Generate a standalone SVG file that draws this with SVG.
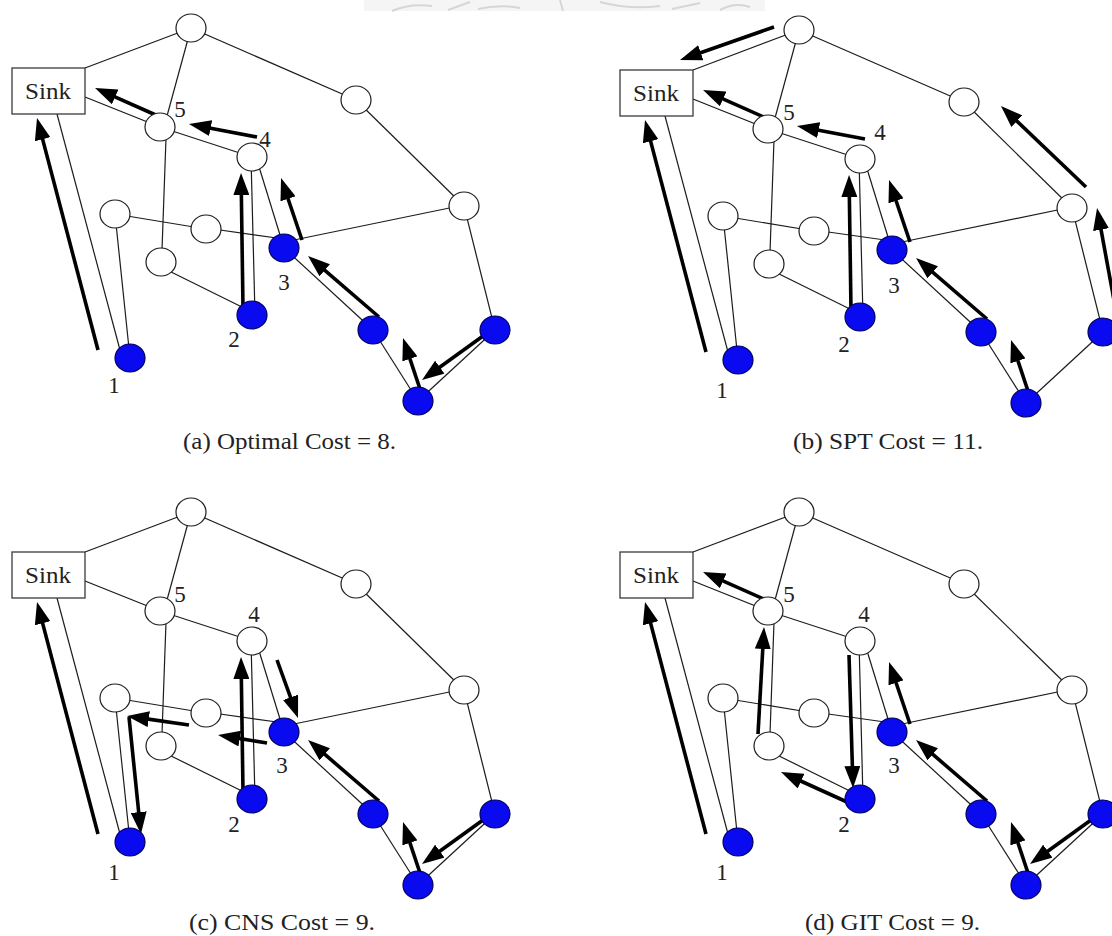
<svg xmlns="http://www.w3.org/2000/svg" width="1112" height="936" viewBox="0 0 1112 936">
  <style>
    .edge { stroke: #1c1c1c; stroke-width: 1.2; fill: none; }
    .arrow { stroke: #000; stroke-width: 3.6; fill: none; marker-end: url(#head); }
    .wn { fill: #fff; stroke: #1c1c1c; stroke-width: 1.2; }
    .bn { fill: #0a0af0; stroke: #00005a; stroke-width: 1.2; }
    .sink { fill: #fff; stroke: #3a3a3a; stroke-width: 1.3; }
    .lbl { font-family: "Liberation Serif", "Times New Roman", serif; font-size: 23px; fill: #222; }
    .num { font-family: "Liberation Serif", "Times New Roman", serif; font-size: 23px; fill: #222; text-anchor: middle; }
    .cap { font-family: "Liberation Serif", "Times New Roman", serif; font-size: 23px; fill: #222; }
    .seal { stroke: #d6d6d6; stroke-width: 2; fill: none; }
  </style>
  <defs>
    <marker id="head" markerUnits="userSpaceOnUse" markerWidth="22" markerHeight="16" refX="4" refY="8" orient="auto">
      <path d="M0,0 L22,8 L0,16 Z" fill="#000"/>
    </marker>
  </defs>

  <rect width="1112" height="936" fill="#fff"/>

  <!-- faint seal strip along the top edge -->
  <g id="seal">
    <rect x="364" y="0" width="401" height="11" fill="#f5f5f5"/>
    <path class="seal" d="M392,11 Q410,3 432,6"/>
    <path class="seal" d="M448,10 L470,2 M478,9 Q500,4 520,8"/>
    <path class="seal" d="M560,0 L563,11"/>
    <path class="seal" d="M600,2 Q630,10 660,6 M672,9 L700,3"/>
    <path class="seal" d="M720,10 Q735,2 750,7"/>
  </g>

  <!-- (a) -->
  <g id="panel-a">
    <g id="a-connectors">
      <path class="edge" d="M85,68 L191,28"/>
      <path class="edge" d="M85,97 L160,127"/>
      <path class="edge" d="M57,114 L120,350"/>
      <path class="edge" d="M191,28 L164,127"/>
      <path class="edge" d="M191,28 L356,100"/>
      <path class="edge" d="M356,100 L464,206"/>
      <path class="edge" d="M464,205 L294,240"/>
      <path class="edge" d="M464,206 L495,330"/>
      <path class="edge" d="M160,127 L252,157"/>
      <path class="edge" d="M166,138 L162,250"/>
      <path class="edge" d="M251,157 L255,315"/>
      <path class="edge" d="M256,157 L284,248"/>
      <path class="edge" d="M115,214 L206,229"/>
      <path class="edge" d="M115,214 L130,358"/>
      <path class="edge" d="M206,228 L284,239"/>
      <path class="edge" d="M161,267 L252,312"/>
      <path class="edge" d="M284,248 L373,330"/>
      <path class="edge" d="M373,330 L418,401"/>
      <path class="edge" d="M418,401 L495,330"/>
      <path class="arrow" d="M98,350 L41.6,135.4"/>
      <path class="arrow" d="M158,116 L111.5,95.3"/>
      <path class="arrow" d="M257,137 L206.7,127.4"/>
      <path class="arrow" d="M243,308 L241.3,191"/>
      <path class="arrow" d="M302,240 L286.8,195"/>
      <path class="arrow" d="M379,317 L321.7,267.7"/>
      <path class="arrow" d="M420,389 L408.7,355.1"/>
      <path class="arrow" d="M483,336 L436.6,369.5"/>
    </g>
    <g id="a-sink"><rect class="sink" x="12" y="68" width="73" height="46"/><text class="lbl" x="25" y="99" textLength="46" lengthAdjust="spacingAndGlyphs">Sink</text></g>
    <g id="a-top"><ellipse class="wn" cx="191" cy="28" rx="15" ry="14"/></g>
    <g id="a-n5"><ellipse class="wn" cx="160" cy="127" rx="15" ry="14"/><text class="num" x="180" y="117">5</text></g>
    <g id="a-rt"><ellipse class="wn" cx="356" cy="100" rx="15" ry="14"/></g>
    <g id="a-n4"><ellipse class="wn" cx="252" cy="157" rx="15" ry="14"/><text class="num" x="265" y="147">4</text></g>
    <g id="a-r"><ellipse class="wn" cx="464" cy="206" rx="15" ry="14"/></g>
    <g id="a-na"><ellipse class="wn" cx="115" cy="214" rx="15" ry="14"/></g>
    <g id="a-nb"><ellipse class="wn" cx="206" cy="229" rx="15" ry="14"/></g>
    <g id="a-nc"><ellipse class="wn" cx="161" cy="262" rx="15" ry="14"/></g>
    <g id="a-n3"><ellipse class="bn" cx="284" cy="248" rx="15" ry="14"/><text class="num" x="284" y="290">3</text></g>
    <g id="a-n2"><ellipse class="bn" cx="252" cy="315" rx="15" ry="14"/><text class="num" x="234" y="347">2</text></g>
    <g id="a-n1"><ellipse class="bn" cx="130" cy="358" rx="15" ry="14"/><text class="num" x="114" y="393">1</text></g>
    <g id="a-nd"><ellipse class="bn" cx="373" cy="330" rx="15" ry="14"/></g>
    <g id="a-ne"><ellipse class="bn" cx="495" cy="330" rx="15" ry="14"/></g>
    <g id="a-nf"><ellipse class="bn" cx="418" cy="401" rx="15" ry="14"/></g>
    <text class="cap" x="183" y="449" textLength="213" lengthAdjust="spacingAndGlyphs">(a) Optimal Cost = 8.</text>
  </g>

  <!-- (b) -->
  <g id="panel-b" transform="translate(608,2)">
    <g id="b-connectors">
      <path class="edge" d="M85,68 L191,28"/>
      <path class="edge" d="M85,97 L160,127"/>
      <path class="edge" d="M57,114 L120,350"/>
      <path class="edge" d="M191,28 L164,127"/>
      <path class="edge" d="M191,28 L356,100"/>
      <path class="edge" d="M356,100 L464,206"/>
      <path class="edge" d="M464,205 L294,240"/>
      <path class="edge" d="M464,206 L495,330"/>
      <path class="edge" d="M160,127 L252,157"/>
      <path class="edge" d="M166,138 L162,250"/>
      <path class="edge" d="M251,157 L255,315"/>
      <path class="edge" d="M256,157 L284,248"/>
      <path class="edge" d="M115,214 L206,229"/>
      <path class="edge" d="M115,214 L130,358"/>
      <path class="edge" d="M206,228 L284,239"/>
      <path class="edge" d="M161,267 L252,312"/>
      <path class="edge" d="M284,248 L373,330"/>
      <path class="edge" d="M373,330 L418,401"/>
      <path class="edge" d="M418,401 L495,330"/>
      <path class="arrow" d="M98,350 L41.6,135.4"/>
      <path class="arrow" d="M166,25 L89,52"/>
      <path class="arrow" d="M158,116 L111.5,95.3"/>
      <path class="arrow" d="M257,137 L206.7,127.4"/>
      <path class="arrow" d="M243,308 L241.3,191"/>
      <path class="arrow" d="M302,240 L286.8,195"/>
      <path class="arrow" d="M379,317 L321.7,267.7"/>
      <path class="arrow" d="M420,389 L408.7,355.1"/>
      <path class="arrow" d="M510,320 L492.3,223.7"/>
      <path class="arrow" d="M478,185 L406,116.4"/>
    </g>
    <g id="b-sink"><rect class="sink" x="12" y="68" width="73" height="46"/><text class="lbl" x="25" y="99" textLength="46" lengthAdjust="spacingAndGlyphs">Sink</text></g>
    <g id="b-top"><ellipse class="wn" cx="191" cy="28" rx="15" ry="14"/></g>
    <g id="b-n5"><ellipse class="wn" cx="160" cy="127" rx="15" ry="14"/><text class="num" x="181" y="118">5</text></g>
    <g id="b-rt"><ellipse class="wn" cx="356" cy="100" rx="15" ry="14"/></g>
    <g id="b-n4"><ellipse class="wn" cx="252" cy="157" rx="15" ry="14"/><text class="num" x="272" y="138">4</text></g>
    <g id="b-r"><ellipse class="wn" cx="464" cy="206" rx="15" ry="14"/></g>
    <g id="b-na"><ellipse class="wn" cx="115" cy="214" rx="15" ry="14"/></g>
    <g id="b-nb"><ellipse class="wn" cx="206" cy="229" rx="15" ry="14"/></g>
    <g id="b-nc"><ellipse class="wn" cx="161" cy="262" rx="15" ry="14"/></g>
    <g id="b-n3"><ellipse class="bn" cx="284" cy="248" rx="15" ry="14"/><text class="num" x="286" y="291">3</text></g>
    <g id="b-n2"><ellipse class="bn" cx="252" cy="315" rx="15" ry="14"/><text class="num" x="236" y="350">2</text></g>
    <g id="b-n1"><ellipse class="bn" cx="130" cy="358" rx="15" ry="14"/><text class="num" x="114" y="396">1</text></g>
    <g id="b-nd"><ellipse class="bn" cx="373" cy="330" rx="15" ry="14"/></g>
    <g id="b-ne"><ellipse class="bn" cx="495" cy="330" rx="15" ry="14"/></g>
    <g id="b-nf"><ellipse class="bn" cx="418" cy="401" rx="15" ry="14"/></g>
    <text class="cap" x="185" y="447" textLength="190" lengthAdjust="spacingAndGlyphs">(b) SPT Cost = 11.</text>
  </g>

  <!-- (c) -->
  <g id="panel-c" transform="translate(0,484)">
    <g id="c-connectors">
      <path class="edge" d="M85,68 L191,28"/>
      <path class="edge" d="M85,97 L160,127"/>
      <path class="edge" d="M57,114 L120,350"/>
      <path class="edge" d="M191,28 L164,127"/>
      <path class="edge" d="M191,28 L356,100"/>
      <path class="edge" d="M356,100 L464,206"/>
      <path class="edge" d="M464,205 L294,240"/>
      <path class="edge" d="M464,206 L495,330"/>
      <path class="edge" d="M160,127 L252,157"/>
      <path class="edge" d="M166,138 L162,250"/>
      <path class="edge" d="M251,157 L255,315"/>
      <path class="edge" d="M256,157 L284,248"/>
      <path class="edge" d="M115,214 L206,229"/>
      <path class="edge" d="M115,214 L130,358"/>
      <path class="edge" d="M206,228 L284,239"/>
      <path class="edge" d="M161,267 L252,312"/>
      <path class="edge" d="M284,248 L373,330"/>
      <path class="edge" d="M373,330 L418,401"/>
      <path class="edge" d="M418,401 L495,330"/>
      <path class="arrow" d="M98,350 L41.6,135.4"/>
      <path class="arrow" d="M243,308 L241.3,191"/>
      <path class="arrow" d="M277,176 L291.9,217.1"/>
      <path class="arrow" d="M267,259 L235.8,253.9"/>
      <path class="arrow" d="M189,241 L144.8,234.6"/>
      <path class="arrow" d="M129,233 L139.1,332.1"/>
      <path class="arrow" d="M379,317 L321.7,267.7"/>
      <path class="arrow" d="M420,389 L408.7,355.1"/>
      <path class="arrow" d="M483,336 L436.6,369.5"/>
    </g>
    <g id="c-sink"><rect class="sink" x="12" y="68" width="73" height="46"/><text class="lbl" x="25" y="99" textLength="46" lengthAdjust="spacingAndGlyphs">Sink</text></g>
    <g id="c-top"><ellipse class="wn" cx="191" cy="28" rx="15" ry="14"/></g>
    <g id="c-n5"><ellipse class="wn" cx="160" cy="127" rx="15" ry="14"/><text class="num" x="180" y="118">5</text></g>
    <g id="c-rt"><ellipse class="wn" cx="356" cy="100" rx="15" ry="14"/></g>
    <g id="c-n4"><ellipse class="wn" cx="252" cy="157" rx="15" ry="14"/><text class="num" x="254" y="138">4</text></g>
    <g id="c-r"><ellipse class="wn" cx="464" cy="206" rx="15" ry="14"/></g>
    <g id="c-na"><ellipse class="wn" cx="115" cy="214" rx="15" ry="14"/></g>
    <g id="c-nb"><ellipse class="wn" cx="206" cy="229" rx="15" ry="14"/></g>
    <g id="c-nc"><ellipse class="wn" cx="161" cy="262" rx="15" ry="14"/></g>
    <g id="c-n3"><ellipse class="bn" cx="284" cy="248" rx="15" ry="14"/><text class="num" x="282" y="289">3</text></g>
    <g id="c-n2"><ellipse class="bn" cx="252" cy="315" rx="15" ry="14"/><text class="num" x="234" y="348">2</text></g>
    <g id="c-n1"><ellipse class="bn" cx="130" cy="358" rx="15" ry="14"/><text class="num" x="114" y="396">1</text></g>
    <g id="c-nd"><ellipse class="bn" cx="373" cy="330" rx="15" ry="14"/></g>
    <g id="c-ne"><ellipse class="bn" cx="495" cy="330" rx="15" ry="14"/></g>
    <g id="c-nf"><ellipse class="bn" cx="418" cy="401" rx="15" ry="14"/></g>
    <text class="cap" x="189" y="446" textLength="186" lengthAdjust="spacingAndGlyphs">(c) CNS Cost = 9.</text>
  </g>

  <!-- (d) -->
  <g id="panel-d" transform="translate(608,484)">
    <g id="d-connectors">
      <path class="edge" d="M85,68 L191,28"/>
      <path class="edge" d="M85,97 L160,127"/>
      <path class="edge" d="M57,114 L120,350"/>
      <path class="edge" d="M191,28 L164,127"/>
      <path class="edge" d="M191,28 L356,100"/>
      <path class="edge" d="M356,100 L464,206"/>
      <path class="edge" d="M464,205 L294,240"/>
      <path class="edge" d="M464,206 L495,330"/>
      <path class="edge" d="M160,127 L252,157"/>
      <path class="edge" d="M166,138 L162,250"/>
      <path class="edge" d="M251,157 L255,315"/>
      <path class="edge" d="M256,157 L284,248"/>
      <path class="edge" d="M115,214 L206,229"/>
      <path class="edge" d="M115,214 L130,358"/>
      <path class="edge" d="M206,228 L284,239"/>
      <path class="edge" d="M161,267 L252,312"/>
      <path class="edge" d="M284,248 L373,330"/>
      <path class="edge" d="M373,330 L418,401"/>
      <path class="edge" d="M418,401 L495,330"/>
      <path class="arrow" d="M98,350 L41.6,135.4"/>
      <path class="arrow" d="M158,116 L111.5,95.3"/>
      <path class="arrow" d="M150,250 L155,161"/>
      <path class="arrow" d="M239,318 L189.4,295.5"/>
      <path class="arrow" d="M241,171 L244.5,286"/>
      <path class="arrow" d="M302,240 L286.8,195"/>
      <path class="arrow" d="M379,317 L321.7,267.7"/>
      <path class="arrow" d="M420,389 L408.7,355.1"/>
      <path class="arrow" d="M483,336 L436.6,369.5"/>
    </g>
    <g id="d-sink"><rect class="sink" x="12" y="68" width="73" height="46"/><text class="lbl" x="25" y="99" textLength="46" lengthAdjust="spacingAndGlyphs">Sink</text></g>
    <g id="d-top"><ellipse class="wn" cx="191" cy="28" rx="15" ry="14"/></g>
    <g id="d-n5"><ellipse class="wn" cx="160" cy="127" rx="15" ry="14"/><text class="num" x="181" y="118">5</text></g>
    <g id="d-rt"><ellipse class="wn" cx="356" cy="100" rx="15" ry="14"/></g>
    <g id="d-n4"><ellipse class="wn" cx="252" cy="157" rx="15" ry="14"/><text class="num" x="256" y="138">4</text></g>
    <g id="d-r"><ellipse class="wn" cx="464" cy="206" rx="15" ry="14"/></g>
    <g id="d-na"><ellipse class="wn" cx="115" cy="214" rx="15" ry="14"/></g>
    <g id="d-nb"><ellipse class="wn" cx="206" cy="229" rx="15" ry="14"/></g>
    <g id="d-nc"><ellipse class="wn" cx="161" cy="262" rx="15" ry="14"/></g>
    <g id="d-n3"><ellipse class="bn" cx="284" cy="248" rx="15" ry="14"/><text class="num" x="286" y="289">3</text></g>
    <g id="d-n2"><ellipse class="bn" cx="252" cy="315" rx="15" ry="14"/><text class="num" x="236" y="348">2</text></g>
    <g id="d-n1"><ellipse class="bn" cx="130" cy="358" rx="15" ry="14"/><text class="num" x="114" y="396">1</text></g>
    <g id="d-nd"><ellipse class="bn" cx="373" cy="330" rx="15" ry="14"/></g>
    <g id="d-ne"><ellipse class="bn" cx="495" cy="330" rx="15" ry="14"/></g>
    <g id="d-nf"><ellipse class="bn" cx="418" cy="401" rx="15" ry="14"/></g>
    <text class="cap" x="197" y="446" textLength="175" lengthAdjust="spacingAndGlyphs">(d) GIT Cost = 9.</text>
  </g>
</svg>
